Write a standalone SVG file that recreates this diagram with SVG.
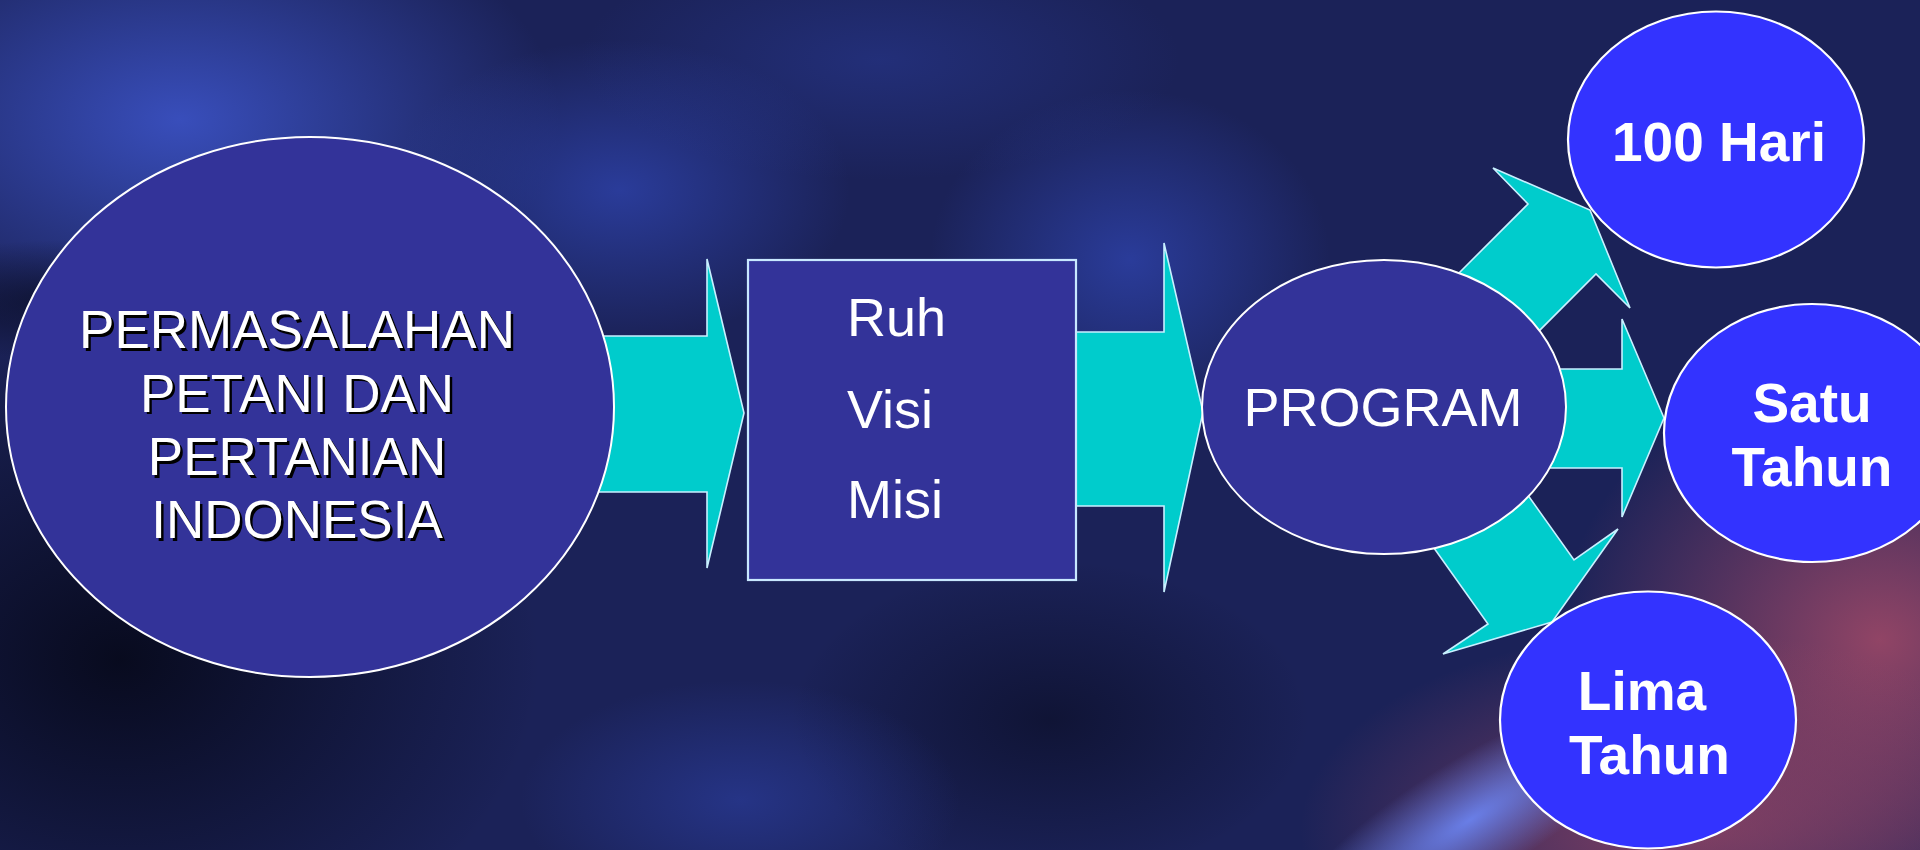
<svg xmlns="http://www.w3.org/2000/svg" width="1920" height="850" viewBox="0 0 1920 850">
<defs>
<style>
.arrow{fill:#00cccc;stroke:#c8f0ff;stroke-width:1.6;stroke-linejoin:miter}
.dark{fill:#333399;stroke:#ffffff;stroke-width:2}
.bright{fill:#3333ff;stroke:#ffffff;stroke-width:2.2}
.box{fill:#333399;stroke:#c8e8ff;stroke-width:2.2}
.t{font-family:"Liberation Sans",Arial,Helvetica,sans-serif;fill:#ffffff;font-size:54px}
.tb{font-family:"Liberation Sans",Arial,Helvetica,sans-serif;fill:#ffffff;font-size:55px;font-weight:bold;text-anchor:middle}
.sh{font-family:"Liberation Sans",Arial,Helvetica,sans-serif;font-size:53px;text-anchor:middle}
</style>
<radialGradient id="gBlue1"><stop offset="0" stop-color="#3a50c0" stop-opacity="0.95"/><stop offset="1" stop-color="#3a50c0" stop-opacity="0"/></radialGradient>
<radialGradient id="gBlue2"><stop offset="0" stop-color="#2e42aa" stop-opacity="0.8"/><stop offset="1" stop-color="#2e42aa" stop-opacity="0"/></radialGradient>
<radialGradient id="gDark"><stop offset="0" stop-color="#060818" stop-opacity="0.9"/><stop offset="1" stop-color="#060818" stop-opacity="0"/></radialGradient>
<radialGradient id="gRed"><stop offset="0" stop-color="#b8506a" stop-opacity="0.75"/><stop offset="1" stop-color="#b8506a" stop-opacity="0"/></radialGradient>
<radialGradient id="gLight"><stop offset="0" stop-color="#6f8cff" stop-opacity="0.85"/><stop offset="1" stop-color="#6f8cff" stop-opacity="0"/></radialGradient>
</defs>

<g id="background">
<rect x="0" y="0" width="1920" height="850" fill="#1b2258"/>
<ellipse cx="180" cy="120" rx="380" ry="230" fill="url(#gBlue1)"/>
<ellipse cx="620" cy="190" rx="230" ry="150" fill="url(#gBlue2)"/>
<ellipse cx="1130" cy="260" rx="200" ry="170" fill="url(#gBlue2)"/>
<ellipse cx="880" cy="60" rx="300" ry="120" fill="url(#gBlue2)" opacity="0.5"/>
<ellipse cx="120" cy="660" rx="420" ry="330" fill="url(#gDark)"/>
<ellipse cx="60" cy="300" rx="200" ry="60" fill="url(#gDark)" opacity="0.7"/>
<ellipse cx="1050" cy="720" rx="260" ry="160" fill="url(#gDark)" opacity="0.6"/>
<ellipse cx="740" cy="800" rx="220" ry="120" fill="url(#gBlue2)" opacity="0.7"/>
<ellipse cx="1880" cy="640" rx="320" ry="280" fill="url(#gRed)"/>
<ellipse cx="1680" cy="830" rx="380" ry="200" fill="url(#gRed)" opacity="0.85"/>
<ellipse cx="1470" cy="820" rx="220" ry="60" fill="url(#gLight)" transform="rotate(-32 1470 820)"/>
</g>

<g id="connectors">
<polygon id="arrow-problem-box" class="arrow" points="560,336 707,336 707,259 744,413 707,568 707,492 560,492"/>
<polygon id="arrow-box-program" class="arrow" points="1068,332 1164,332 1164,243 1203,412 1164,592 1164,506 1068,506"/>
<polygon id="arrow-program-100hari" class="arrow" points="1420,312 1528,204 1493,168 1590,210 1630,308 1596,274 1488,382"/>
<polygon id="arrow-program-satu" class="arrow" points="1500,369 1622,369 1622,319 1664,418 1622,517 1622,468 1500,468"/>
<polygon id="arrow-program-lima" class="arrow" points="1424,534 1488,624 1443,654 1552,622 1618,529 1574,560 1510,470"/>
</g>

<g id="node-permasalahan">
<ellipse class="dark" cx="310" cy="407" rx="304" ry="270" stroke="#dfe8ff"/>
<g class="sh" fill="#000000" transform="translate(2.5,2.5)">
<text x="297" y="348">PERMASALAHAN</text>
<text x="297" y="411.5">PETANI DAN</text>
<text x="297" y="475">PERTANIAN</text>
<text x="297" y="538">INDONESIA</text>
</g>
<g class="sh" fill="#ffffff">
<text x="297" y="348">PERMASALAHAN</text>
<text x="297" y="411.5">PETANI DAN</text>
<text x="297" y="475">PERTANIAN</text>
<text x="297" y="538">INDONESIA</text>
</g>
</g>

<g id="node-ruh-visi-misi">
<rect class="box" x="748" y="260" width="328" height="320"/>
<text class="t" x="847" y="336">Ruh</text>
<text class="t" x="847" y="428">Visi</text>
<text class="t" x="847" y="518">Misi</text>
</g>

<g id="node-program">
<ellipse class="dark" cx="1384" cy="407" rx="182" ry="147"/>
<text class="t" x="1383" y="426" text-anchor="middle" font-size="53">PROGRAM</text>
</g>

<g id="node-100hari">
<ellipse class="bright" cx="1716" cy="139.5" rx="148" ry="128"/>
<text class="tb" x="1719" y="161">100 Hari</text>
</g>

<g id="node-satu-tahun">
<ellipse class="bright" cx="1812" cy="433" rx="148" ry="129"/>
<text class="tb" x="1812" y="422">Satu</text>
<text class="tb" x="1812" y="486">Tahun</text>
</g>

<g id="node-lima-tahun">
<ellipse class="bright" cx="1648" cy="720" rx="148" ry="128.5"/>
<text class="tb" x="1642" y="710">Lima</text>
<text class="tb" x="1649.5" y="774">Tahun</text>
</g>
</svg>
